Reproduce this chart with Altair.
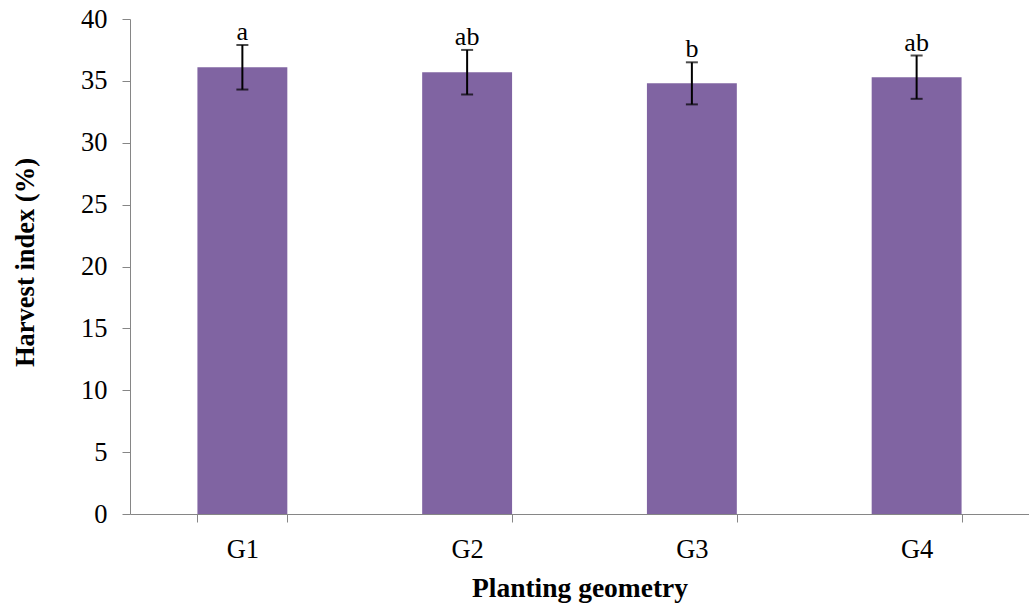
import altair as alt
import pandas as pd

# Harvest index by planting geometry, with error bars and significance letters
geometry = ["G1", "G2", "G3", "G4"]
harvest_index = [36.1, 35.7, 34.8, 35.3]
error = [1.8, 1.8, 1.7, 1.75]
letters = ["a", "ab", "b", "ab"]

df = pd.DataFrame({
    "geometry": geometry,
    "hi": harvest_index,
    "lo": [v - e for v, e in zip(harvest_index, error)],
    "hi_err": [v + e for v, e in zip(harvest_index, error)],
    "letter": letters,
})

SERIF = "Liberation Serif"
AXIS_GREY = "#868686"

x_enc = alt.X(
    "geometry:N",
    title="Planting geometry",
    sort=geometry,
    scale=alt.Scale(paddingInner=0.6, paddingOuter=0.3),
    axis=alt.Axis(
        labelAngle=0,
        labelFont=SERIF,
        labelFontSize=26.5,
        labelColor="black",
        labelPadding=14,
        domainColor=AXIS_GREY,
        tickColor=AXIS_GREY,
        tickSize=8,
        tickBand="extent",
        titleFont=SERIF,
        titleFontSize=27.5,
        titleFontWeight="bold",
        titleColor="black",
        titleBaseline="alphabetic",
        titleY=82,
    ),
)

y_scale = alt.Scale(domain=[0, 40])

bars = alt.Chart(df).mark_bar(color="#8064A2").encode(
    x=x_enc,
    y=alt.Y(
        "hi:Q",
        title="Harvest index (%)",
        scale=y_scale,
        axis=alt.Axis(
            values=list(range(0, 41, 5)),
            grid=False,
            labelFont=SERIF,
            labelFontSize=26.5,
            labelColor="black",
            labelPadding=15,
            domainColor=AXIS_GREY,
            tickColor=AXIS_GREY,
            tickSize=8,
            titleFont=SERIF,
            titleFontSize=26.5,
            titleFontWeight="bold",
            titleColor="black",
            titleBaseline="alphabetic",
            titleAngle=270,
            titleX=-97,
            titleY=243,
        ),
    ),
)

stems = alt.Chart(df).mark_rule(color="black", strokeWidth=2).encode(
    x=alt.X("geometry:N", sort=geometry),
    y=alt.Y("lo:Q", scale=y_scale),
    y2="hi_err:Q",
)

caps_top = alt.Chart(df).mark_tick(color="black", thickness=2, size=12, orient="horizontal").encode(
    x=alt.X("geometry:N", sort=geometry),
    y=alt.Y("hi_err:Q", scale=y_scale),
)

caps_bottom = alt.Chart(df).mark_tick(color="black", thickness=2, size=12, orient="horizontal").encode(
    x=alt.X("geometry:N", sort=geometry),
    y=alt.Y("lo:Q", scale=y_scale),
)

labels = alt.Chart(df).mark_text(
    font=SERIF, fontSize=26, color="black", baseline="alphabetic", dy=-5
).encode(
    x=alt.X("geometry:N", sort=geometry),
    y=alt.Y("hi_err:Q", scale=y_scale),
    text="letter:N",
)

chart = (
    alt.layer(bars, stems, caps_top, caps_bottom, labels)
    .properties(
        width=899,
        height=495,
        padding={"left": 130, "top": 19, "right": 0, "bottom": 92},
        autosize=alt.AutoSizeParams(type="none"),
        background="white",
    )
    .configure_view(stroke=None)
)

chart.save("out.html", embed_options={"renderer": "svg", "actions": False})
